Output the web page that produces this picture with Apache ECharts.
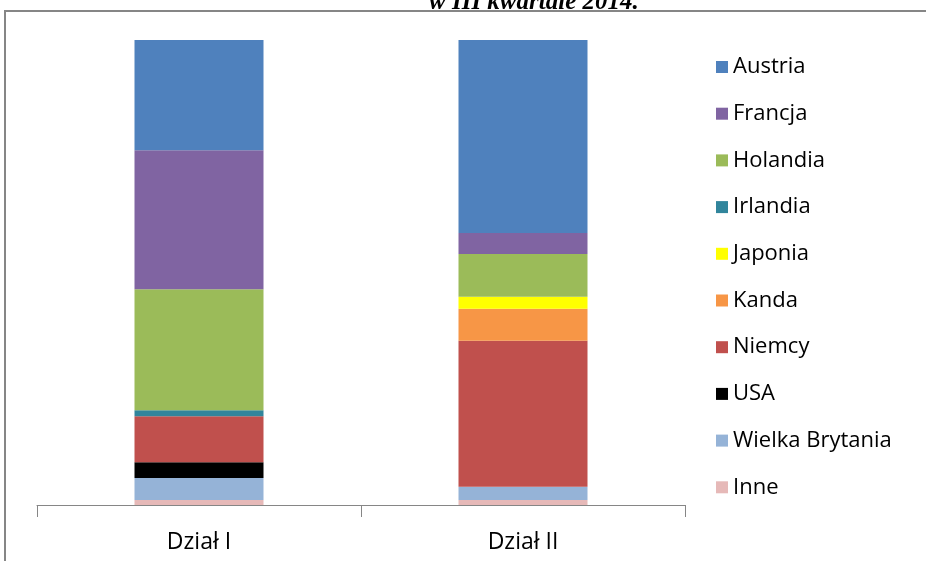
<!DOCTYPE html>
<html>
<head>
<meta charset="utf-8">
<script src="https://cdn.jsdelivr.net/npm/echarts@6/dist/echarts.min.js"></script>
<style>
  html, body { margin: 0; padding: 0; background: #fff; }
  #chart { width: 926px; height: 561px; }
</style>
</head>
<body>
<div id="chart"></div>
<script>
// Udział krajów (%) w poszczególnych działach
const categories = ['Dział I', 'Dział II'];
const austria   = [23.7, 41.5];
const francja   = [29.9, 4.5];
const holandia  = [26.0, 9.2];
const irlandia  = [1.3, 0];
const japonia   = [0, 2.6];
const kanda     = [0, 6.9];
const niemcy    = [9.9, 31.4];
const usa       = [3.4, 0];
const wielkaBrytania = [4.7, 2.8];
const inne      = [1.1, 1.1];

// Legend order (top to bottom) and matching colours
const legendOrder = ['Austria', 'Francja', 'Holandia', 'Irlandia', 'Japonia',
                     'Kanda', 'Niemcy', 'USA', 'Wielka Brytania', 'Inne'];
const seriesData = {
  'Austria': austria, 'Francja': francja, 'Holandia': holandia,
  'Irlandia': irlandia, 'Japonia': japonia, 'Kanda': kanda,
  'Niemcy': niemcy, 'USA': usa, 'Wielka Brytania': wielkaBrytania, 'Inne': inne
};
const colors = {
  'Austria': '#4F81BD', 'Francja': '#8064A2', 'Holandia': '#9BBB59',
  'Irlandia': '#31859C', 'Japonia': '#FFFF00', 'Kanda': '#F79646',
  'Niemcy': '#C0504D', 'USA': '#000000', 'Wielka Brytania': '#95B3D7',
  'Inne': '#E6B9B8'
};

// Stack from the bottom: last legend entry sits at the base
const series = legendOrder.slice().reverse().map(name => ({
  name: name,
  type: 'bar',
  stack: 'udzial',
  barWidth: 129,
  data: seriesData[name],
  itemStyle: { color: colors[name] }
}));

const chart = echarts.init(document.getElementById('chart'), null, { renderer: 'canvas' });
chart.setOption({
  animation: false,
  backgroundColor: '#ffffff',
  title: {
    text: 'w III kwartale 2014.',
    left: 424,
    top: -15,
    textStyle: {
      fontFamily: 'Liberation Serif',
      fontStyle: 'italic',
      fontWeight: 'bold',
      fontSize: 25,
      color: '#000'
    }
  },
  graphic: [{
    type: 'rect',
    shape: { x: 5, y: 11, width: 1000, height: 700 },
    style: { fill: 'none', stroke: '#868686', lineWidth: 2 },
    silent: true,
    z: -1
  }],
  legend: {
    orient: 'vertical',
    left: 711,
    top: 51,
    itemWidth: 12,
    itemHeight: 12,
    itemGap: 24.7,
    icon: 'rect',
    data: legendOrder,
    textStyle: {
      fontFamily: 'Open Sans',
      fontSize: 22,
      lineHeight: 22,
      color: '#000'
    }
  },
  grid: { left: 37, right: 241, top: 40, bottom: 56 },
  xAxis: {
    type: 'category',
    data: categories,
    axisLine: { lineStyle: { color: '#868686', width: 1 } },
    axisTick: { show: true, length: 12, lineStyle: { color: '#868686' } },
    axisLabel: {
      margin: 26,
      fontFamily: 'Open Sans',
      fontSize: 23,
      color: '#000'
    }
  },
  yAxis: {
    type: 'value',
    min: 0,
    max: 100,
    show: false,
    splitLine: { show: false }
  },
  series: series
});
</script>
</body>
</html>
